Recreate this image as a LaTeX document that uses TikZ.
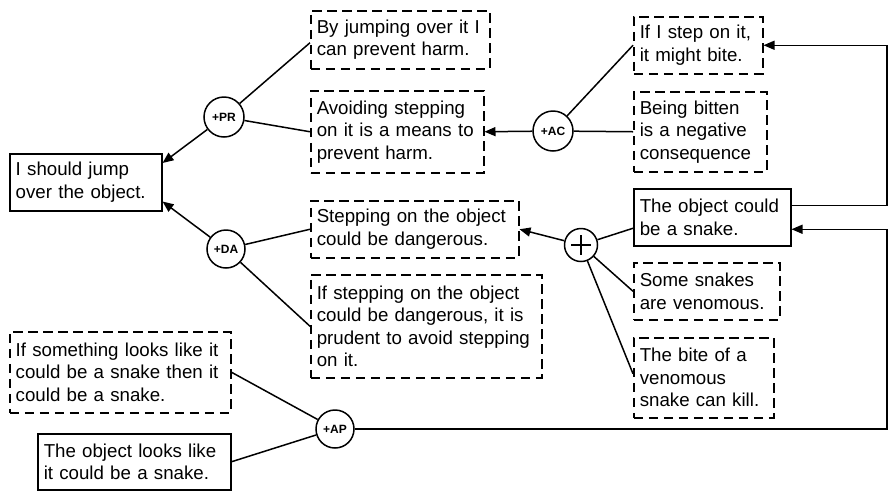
\documentclass[tikz,border=0pt]{standalone}
\usepackage{fontspec}
\setmainfont{Liberation Sans}
\usetikzlibrary{arrows.meta,calc}
\begin{document}
\begin{tikzpicture}[x=1pt,y=-1pt,
  box/.style={draw, line width=1.5pt, anchor=north west, align=left,
    inner xsep=6pt, inner ysep=0pt, font=\fontsize{18.7}{22.5}\selectfont},
  sbox/.style={box},
  dbox/.style={box, dash pattern=on 9.5pt off 5.5pt},
  circ/.style={circle, draw, line width=1.5pt, inner sep=0pt,
    font=\fontsize{12}{12}\selectfont\bfseries},
  conn/.style={line width=1.5pt},
  arr/.style={conn, -{Triangle[length=11pt,width=9pt]}}]
\useasboundingbox (0,0) rectangle (889,491);

% boxes
\node[sbox, text width=140pt, minimum height=57pt] (jump) at (9,153) {I should jump\\over the object.};
\node[dbox, text width=167pt, minimum height=58pt] (b1) at (310,10) {By jumping over it I\\can prevent harm.};
\node[dbox, text width=161pt, minimum height=82pt] (b2) at (310,90) {Avoiding stepping\\on it is a means to\\prevent harm.};
\node[dbox, text width=196pt, minimum height=57pt] (b3) at (310,200) {Stepping on the object\\could be dangerous.};
\node[dbox, text width=219pt, minimum height=103pt] (b4) at (310,274) {If stepping on the object\\could be dangerous, it is\\prudent to avoid stepping\\on it.};
\node[dbox, text width=117pt, minimum height=57pt] (r1) at (633,16) {If I step on it,\\it might bite.};
\node[dbox, text width=121pt, minimum height=80pt] (r2) at (633,91) {Being bitten\\is a negative\\consequence};
\node[sbox, text width=145pt, minimum height=57pt] (snake) at (633,188) {The object could\\be a snake.};
\node[dbox, text width=134pt, minimum height=57pt] (r3) at (633,262) {Some snakes\\are venomous.};
\node[dbox, text width=128pt, minimum height=80pt] (r4) at (633,337) {The bite of a\\venomous\\snake can kill.};
\node[dbox, text width=209pt, minimum height=81pt] (l1) at (9,331) {If something looks like it\\could be a snake then it\\could be a snake.};
\node[sbox, text width=181pt, minimum height=56pt] (l2) at (37,433) {The object looks like\\it could be a snake.};

% circles
\node[circ, minimum size=40pt] (PR) at (224,117) {+PR};
\node[circ, minimum size=38pt] (DA) at (226,249) {+DA};
\node[circ, minimum size=40pt] (AC) at (553,131) {+AC};
\node[circ, minimum size=38pt] (AP) at (335,429) {+AP};
\node[circle, draw, line width=1.5pt, minimum size=33pt, inner sep=0pt] (plus) at (581,245) {};
\draw[line width=1.8pt] ($(plus.center)+(-10,0)$) -- ($(plus.center)+(10,0)$);
\draw[line width=1.8pt] ($(plus.center)+(0,-10)$) -- ($(plus.center)+(0,10)$);

\coordinate (rail) at (887,0);
\coordinate (snakeout) at ([yshift=12pt]snake.east);
\coordinate (snakein) at ([yshift=-12pt]snake.east);
\coordinate (snakeleft) at ([yshift=-11pt]snake.west);

% connectors
\draw[arr] (PR) -- ([yshift=-10pt]jump.north east);
\draw[conn] (PR) -- ([yshift=-3pt]b1.west);
\draw[conn] (PR) -- (b2.west);
\draw[arr] (DA) -- ([yshift=10pt]jump.south east);
\draw[conn] (DA) -- (b3.west);
\draw[conn] (DA) -- (b4.west);
\draw[arr] (AC) -- (b2.east);
\draw[conn] (AC) -- (r1.west);
\draw[conn] (AC) -- (r2.west);
\draw[arr] (plus) -- (b3.east);
\draw[conn] (plus) -- (snakeleft);
\draw[conn] (plus) -- (r3.west);
\draw[conn] (plus) -- ([yshift=4pt]r4.west);
\draw[conn] (l1.east) -- (AP);
\draw[conn] (l2.east) -- (AP);
\draw[arr] (snakeout) -- (snakeout -| rail) -- (rail |- r1.east) -- (r1.east);
\draw[arr] (AP.east) -- (AP.east -| rail) -- (rail |- snakein) -- (snakein);
\end{tikzpicture}
\end{document}
